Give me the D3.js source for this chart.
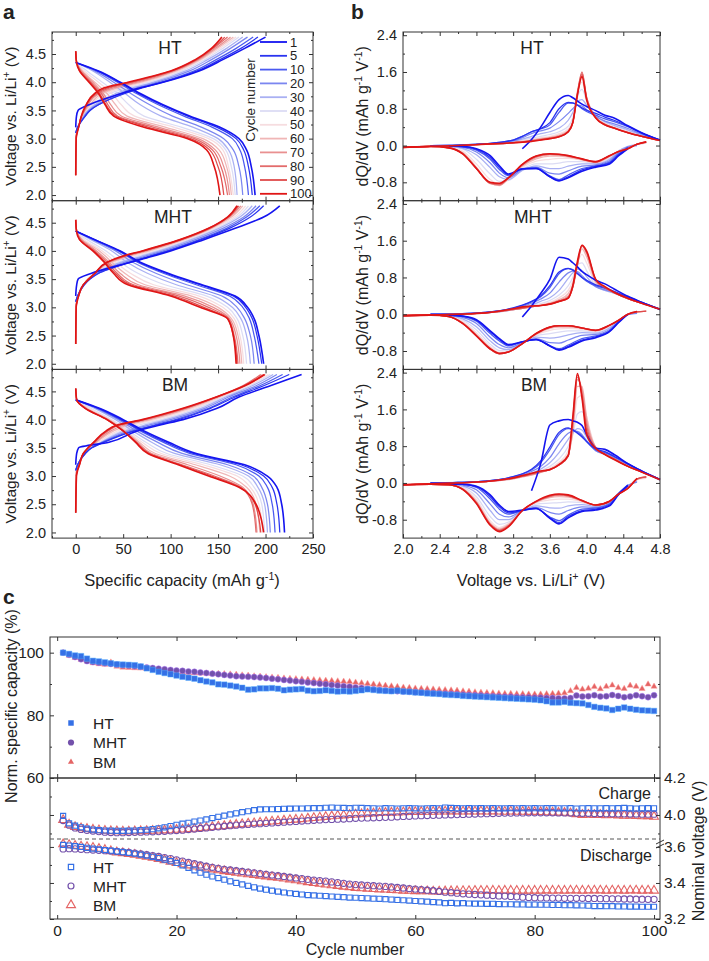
<!DOCTYPE html>
<html><head><meta charset="utf-8">
<script src="https://cdn.jsdelivr.net/npm/d3@7"></script>
<style>body{margin:0;background:#fff} text{font-family:Arial,"Liberation Sans",sans-serif;fill:#222}</style>
</head><body><svg id="c" width="709" height="961"></svg>
<script>
const n = null;
// ---------- shared ----------
const cycles = [1,5,10,20,30,40,50,60,70,80,90,100];
const cycleColors = ["#1414f0","#2a34f0","#4b5af0","#7b86f0","#a9b0f3","#dcdcf4","#f6dde0","#f0b6b6","#e99090","#e36b6b","#df4a4a","#e01515"];
const drawOrder = [5,6,4,7,3,8,2,9,1,10,0,11];

// ---------- panel a : voltage profiles ----------
const capVdis = [4.55,4.35,4.2,4.0,3.8,3.6,3.4,3.2,3.0,2.8,2.5,2.0];
const capVchg = [2.35,3.0,3.1,3.2,3.4,3.5,3.6,3.8,3.9,4.0,4.2,4.4,4.6,4.8];
const HT_dis = [
 [n,0,24,47,68,92,120,152,172,180,185,189],
 [n,0,23,46,66,90,118,149,169,177,182,186],
 [n,0,22,44,64,87,114,144,165,173,178,182],
 [n,0,20,40,58,78,102,133,156,166,172,176],
 [n,0,18,36,52,68,90,124,150,161,167,170],
 [0,1,12,28,44,56,72,112,145,158,164,168],
 [0,1,9,24,38,48,62,104,140,155,161,166],
 [0,1,7,20,33,42,54,95,134,151,159,164],
 [0,1,6,18,29,37,48,88,129,147,156,162],
 [0,1,5,16,27,34,44,82,125,144,153,160],
 [0,1,4,15,25,32,42,77,121,141,150,156],
 [0,0.8,4,14,24,31,40,72,118,138,146,152]];
const HT_chg = [
 [n,n,n,0,0.8,2.5,14,48,68,92,130,155,178,200],
 [n,n,0,2,10,15,24,52,70,92,128,152,174,192],
 [n,n,0,2,10,15,24,50,68,90,125,148,169,187],
 [n,n,0,2,9,14,22,46,64,86,120,143,163,181],
 [n,n,0,2,8,13,20,42,60,82,116,139,159,176],
 [n,0,0.8,2.5,8,12,18,36,54,77,112,136,155,172],
 [n,0,0.8,2.5,7,11,16,32,49,73,109,133,152,169],
 [n,0,0.8,2.5,7,10,15,28,44,69,106,131,149,166],
 [0,0.5,1,3,6.5,9.5,13,25,40,65,104,129,147,163],
 [0,0.5,1,3,6,9,12,23,36,61,102,128,145,160],
 [0,0.5,1.2,3,6,8.5,11,21,33,58,101,127,144,157],
 [0,0.5,1.5,3,6,8,11,20,30,55,100,126,143,154]];
const MHT_dis = [
 [n,0,20,47,68,98,133,168,181,188,193,198],
 [n,0,20,46,67,96,131,166,179,186,191,196],
 [n,0,19,45,65,93,127,162,176,183,188,193],
 [n,0,18,42,60,85,117,154,170,178,184,188],
 [n,0,16,38,54,76,106,146,165,174,180,184],
 [0,1,12,32,47,66,94,138,160,170,176,180],
 [0,1,9,28,42,58,82,130,155,167,173,177],
 [0,1,7,25,38,52,73,122,150,164,171,175],
 [0,1,6,22,35,47,66,115,145,162,169,173],
 [0,1,5,20,33,44,61,109,140,161,167,171],
 [0,1,4,19,31,42,58,104,135,160,166,170],
 [0,0.8,4,18,30,40,55,100,131,160,166,169]];
const MHT_chg = [
 [n,n,n,0,1,2.5,16,58,80,100,135,168,198,215],
 [n,n,0,2,9,15,24,58,78,98,132,162,184,198],
 [n,n,0,2,9,15,23,56,76,96,130,159,180,194],
 [n,n,0,2,8,14,22,52,72,92,126,155,177,190],
 [n,n,0,2,8,14,21,48,68,88,122,151,173,186],
 [n,0,0.8,2.5,8,13,20,44,63,84,119,148,170,182],
 [n,0,0.8,2.5,8,13,20,40,59,80,116,145,167,179],
 [n,0,0.8,2.5,8,13,20,37,55,77,114,143,164,176],
 [0,0.5,1,3,8,13,20,35,52,74,112,142,162,174],
 [0,0.5,1,3,8,13,20,34,50,72,111,141,161,172],
 [0,0.5,1.2,3,8,13,20,33,49,71,110,140,160,171],
 [0,0.5,1.5,3,8,14,20,33,48,70,110,140,160,170]];
const BM_dis = [
 [n,0,25,50,72,98,127,178,202,212,217,220],
 [n,0,24,48,70,95,124,174,198,207,212,215],
 [n,0,23,47,68,92,120,169,193,202,207,210],
 [n,0,22,45,64,86,112,160,187,196,202,205],
 [n,0,20,42,60,80,104,152,182,192,199,202],
 [0,1,16,38,56,74,96,142,176,188,196,199],
 [0,1,14,36,54,70,90,134,170,184,193,197],
 [0,1,12,35,52,67,84,126,162,180,190,194],
 [0,1,11,34,51,65,80,118,152,176,187,191],
 [0,1,10,33,50,64,78,112,146,174,186,190],
 [0,1,10,33,50,63,77,110,143,173,189,195],
 [0,1,10,33,50,63,76,108,140,172,190,198]];
const BM_chg = [
 [n,n,n,0,1,3,35,65,88,113,149,172,205,238],
 [n,n,0,2,10,17,30,62,84,108,142,168,198,225],
 [n,n,0,2,10,17,29,60,82,105,140,165,194,218],
 [n,n,0,2,10,16,28,56,77,100,136,161,190,212],
 [n,n,0,2,10,16,27,52,72,95,132,158,186,208],
 [n,0,0.8,2.5,10,16,26,48,66,90,128,155,183,205],
 [n,0,0.8,2.5,10,15,24,44,60,84,124,153,181,203],
 [n,0,0.8,2.5,9,14,22,40,54,79,120,151,179,200],
 [0,0.6,1.2,3.5,9,14,21,37,50,75,117,149,177,197],
 [0,0.6,1.5,3.5,8,13,20,34,46,72,115,148,176,195],
 [0,0.7,1.8,4,8,13,19,33,44,71,114,148,178,199],
 [0,0.8,2,4,8,13,19,32,43,70,113,148,178,199]];

// ---------- panel b : dQ/dV ----------
const dqVchg = [2.0,2.3,2.6,2.9,3.2,3.3,3.4,3.5,3.6,3.7,3.8,3.85,3.9,3.95,4.0,4.1,4.2,4.3,4.45,4.6,4.8];
const dqVdis = [4.65,4.55,4.45,4.35,4.25,4.1,3.95,3.8,3.7,3.6,3.45,3.3,3.15,3.05,2.95,2.8,2.65,2.5,2.3,2.0];
const HT_dqc = [
 [n,n,n,n,n,-0.07,0.13,0.4,0.72,1.0,1.09,1.04,0.97,0.9,0.85,0.76,0.66,0.6,0.43,0.28,0.12],
 [n,0,0.01,0.04,0.12,0.2,0.3,0.37,0.5,0.8,0.94,0.93,0.88,0.82,0.77,0.7,0.62,0.55,0.42,0.27,0.12],
 [n,0,0.01,0.04,0.12,0.2,0.3,0.36,0.45,0.72,0.92,0.92,0.88,0.8,0.74,0.66,0.58,0.52,0.41,0.27,0.12],
 [n,0,0.01,0.04,0.1,0.17,0.26,0.32,0.38,0.52,0.7,0.8,0.88,0.86,0.78,0.63,0.53,0.47,0.37,0.25,0.12],
 [n,0,0.01,0.03,0.09,0.14,0.2,0.26,0.3,0.38,0.55,0.72,0.95,1.0,0.88,0.65,0.52,0.44,0.34,0.23,0.12],
 [-0.04,-0.01,0,0.03,0.08,0.12,0.16,0.2,0.24,0.3,0.42,0.6,1.05,1.22,0.98,0.64,0.5,0.42,0.32,0.22,0.12],
 [-0.04,-0.02,0,0.03,0.07,0.1,0.13,0.17,0.2,0.26,0.36,0.55,1.15,1.38,1.02,0.63,0.48,0.4,0.3,0.21,0.11],
 [-0.04,-0.02,0,0.03,0.07,0.09,0.12,0.15,0.18,0.23,0.33,0.52,1.18,1.5,1.05,0.62,0.47,0.39,0.29,0.2,0.11],
 [-0.04,-0.02,0,0.03,0.06,0.08,0.11,0.14,0.17,0.21,0.31,0.5,1.15,1.58,1.06,0.61,0.46,0.38,0.28,0.2,0.11],
 [-0.04,-0.02,0,0.03,0.06,0.08,0.1,0.13,0.16,0.2,0.3,0.5,1.12,1.6,1.05,0.61,0.46,0.38,0.28,0.2,0.11],
 [-0.04,-0.02,0,0.03,0.06,0.08,0.1,0.12,0.15,0.19,0.3,0.5,1.1,1.55,1.02,0.6,0.45,0.38,0.28,0.2,0.11],
 [-0.04,-0.02,0,0.03,0.06,0.07,0.09,0.12,0.15,0.19,0.3,0.5,1.1,1.5,1.0,0.6,0.45,0.38,0.28,0.2,0.11]];
const HT_dqd = [
 [n,n,-0.07,-0.22,-0.4,-0.47,-0.56,-0.7,-0.77,-0.68,-0.5,-0.51,-0.62,-0.44,-0.22,-0.07,-0.02,-0.01,n,n],
 [n,n,-0.05,-0.2,-0.38,-0.45,-0.53,-0.68,-0.76,-0.68,-0.5,-0.5,-0.64,-0.48,-0.26,-0.08,-0.02,-0.01,0,n],
 [n,n,-0.04,-0.18,-0.36,-0.44,-0.5,-0.64,-0.74,-0.66,-0.48,-0.5,-0.66,-0.52,-0.3,-0.1,-0.03,-0.01,0,n],
 [n,0,-0.03,-0.15,-0.33,-0.42,-0.45,-0.55,-0.62,-0.6,-0.47,-0.52,-0.7,-0.6,-0.38,-0.14,-0.04,-0.02,-0.01,n],
 [n,0.02,-0.02,-0.12,-0.3,-0.4,-0.4,-0.45,-0.5,-0.5,-0.44,-0.54,-0.74,-0.68,-0.48,-0.2,-0.06,-0.02,-0.01,n],
 [0.05,0.02,-0.03,-0.11,-0.27,-0.39,-0.35,-0.35,-0.38,-0.4,-0.4,-0.52,-0.76,-0.78,-0.62,-0.3,-0.08,-0.03,-0.02,-0.04],
 [0.06,0.02,-0.04,-0.12,-0.25,-0.38,-0.32,-0.28,-0.28,-0.3,-0.34,-0.48,-0.74,-0.84,-0.74,-0.4,-0.12,-0.04,-0.02,-0.04],
 [0.07,0.03,-0.05,-0.12,-0.24,-0.37,-0.31,-0.25,-0.23,-0.23,-0.29,-0.45,-0.72,-0.87,-0.82,-0.47,-0.15,-0.05,-0.02,-0.04],
 [0.07,0.03,-0.06,-0.13,-0.23,-0.36,-0.3,-0.23,-0.21,-0.2,-0.26,-0.43,-0.71,-0.86,-0.83,-0.5,-0.17,-0.05,-0.02,-0.04],
 [0.08,0.03,-0.06,-0.13,-0.22,-0.36,-0.3,-0.23,-0.2,-0.19,-0.24,-0.42,-0.7,-0.85,-0.82,-0.5,-0.17,-0.05,-0.02,-0.04],
 [0.08,0.03,-0.07,-0.13,-0.22,-0.35,-0.29,-0.22,-0.19,-0.18,-0.23,-0.41,-0.7,-0.83,-0.81,-0.5,-0.18,-0.05,-0.02,-0.04],
 [0.08,0.03,-0.07,-0.13,-0.22,-0.35,-0.29,-0.22,-0.19,-0.18,-0.23,-0.41,-0.7,-0.82,-0.8,-0.5,-0.18,-0.05,-0.02,-0.04]];
const MHT_dqc = [
 [n,n,n,n,n,-0.06,0.18,0.45,0.76,1.24,1.2,1.12,1.03,0.93,0.86,0.74,0.66,0.55,0.39,0.26,0.1],
 [n,0,0.01,0.04,0.14,0.2,0.28,0.4,0.62,0.92,1.0,0.96,0.88,0.8,0.74,0.64,0.58,0.5,0.38,0.26,0.11],
 [n,0,0.01,0.04,0.13,0.19,0.27,0.38,0.58,0.88,0.99,0.97,0.9,0.8,0.72,0.62,0.56,0.49,0.37,0.26,0.11],
 [n,0,0.01,0.04,0.12,0.17,0.24,0.33,0.46,0.7,0.9,0.94,0.93,0.84,0.74,0.6,0.53,0.47,0.36,0.25,0.11],
 [n,0,0.01,0.03,0.1,0.15,0.2,0.28,0.36,0.52,0.78,0.9,0.98,0.95,0.82,0.6,0.52,0.46,0.35,0.25,0.11],
 [-0.03,-0.01,0,0.03,0.1,0.13,0.18,0.23,0.3,0.42,0.62,0.8,1.08,1.12,0.95,0.62,0.52,0.46,0.34,0.24,0.11],
 [-0.03,-0.02,0,0.03,0.1,0.13,0.17,0.21,0.26,0.36,0.52,0.72,1.1,1.3,1.12,0.66,0.54,0.46,0.34,0.24,0.11],
 [-0.03,-0.02,0,0.03,0.1,0.13,0.16,0.2,0.24,0.32,0.45,0.65,1.1,1.42,1.25,0.7,0.56,0.47,0.34,0.24,0.11],
 [-0.03,-0.02,0,0.03,0.1,0.13,0.16,0.19,0.23,0.3,0.4,0.6,1.08,1.48,1.32,0.72,0.57,0.47,0.34,0.24,0.11],
 [-0.03,-0.02,0,0.03,0.1,0.13,0.16,0.19,0.22,0.28,0.37,0.58,1.05,1.5,1.35,0.74,0.58,0.47,0.34,0.24,0.11],
 [-0.03,-0.02,0,0.03,0.11,0.14,0.17,0.19,0.22,0.28,0.35,0.6,1.1,1.5,1.36,0.75,0.58,0.47,0.34,0.24,0.11],
 [-0.03,-0.02,0,0.03,0.12,0.16,0.18,0.19,0.22,0.28,0.35,0.62,1.15,1.5,1.38,0.76,0.6,0.48,0.35,0.24,0.11]];
const MHT_dqd = [
 [n,n,0,-0.18,-0.38,-0.51,-0.58,-0.72,-0.78,-0.69,-0.55,-0.6,-0.66,-0.53,-0.36,-0.12,-0.04,-0.02,n,n],
 [n,n,0,-0.17,-0.37,-0.49,-0.56,-0.7,-0.77,-0.69,-0.55,-0.6,-0.67,-0.55,-0.38,-0.13,-0.04,-0.02,-0.01,n],
 [n,n,0,-0.16,-0.36,-0.47,-0.53,-0.67,-0.75,-0.68,-0.55,-0.6,-0.69,-0.58,-0.42,-0.15,-0.05,-0.02,-0.01,n],
 [n,0.02,-0.01,-0.15,-0.33,-0.44,-0.46,-0.56,-0.63,-0.62,-0.53,-0.62,-0.73,-0.66,-0.5,-0.2,-0.07,-0.02,-0.01,n],
 [n,0.03,-0.01,-0.14,-0.3,-0.41,-0.4,-0.45,-0.5,-0.52,-0.5,-0.63,-0.77,-0.73,-0.58,-0.27,-0.1,-0.03,-0.01,n],
 [n,0.04,-0.01,-0.14,-0.28,-0.39,-0.36,-0.36,-0.39,-0.42,-0.47,-0.64,-0.8,-0.79,-0.65,-0.34,-0.13,-0.04,-0.02,-0.03],
 [n,0.05,-0.01,-0.13,-0.26,-0.37,-0.33,-0.31,-0.32,-0.35,-0.45,-0.64,-0.81,-0.83,-0.7,-0.4,-0.16,-0.04,-0.02,-0.03],
 [n,0.05,0,-0.13,-0.25,-0.36,-0.31,-0.28,-0.28,-0.31,-0.44,-0.64,-0.82,-0.85,-0.73,-0.44,-0.18,-0.05,-0.02,-0.03],
 [n,0.06,0,-0.13,-0.24,-0.35,-0.3,-0.26,-0.26,-0.29,-0.43,-0.64,-0.82,-0.86,-0.75,-0.46,-0.19,-0.05,-0.02,-0.03],
 [0.07,0.05,0,-0.13,-0.24,-0.35,-0.3,-0.25,-0.25,-0.28,-0.42,-0.64,-0.82,-0.86,-0.76,-0.47,-0.2,-0.05,-0.02,-0.03],
 [0.07,0.05,0,-0.13,-0.24,-0.35,-0.3,-0.25,-0.25,-0.28,-0.42,-0.64,-0.82,-0.86,-0.76,-0.47,-0.2,-0.05,-0.02,-0.03],
 [n,0.06,0,-0.13,-0.24,-0.35,-0.3,-0.25,-0.25,-0.28,-0.42,-0.64,-0.82,-0.85,-0.75,-0.47,-0.2,-0.05,-0.02,-0.03]];
const BM_dqc = [
 [n,n,n,n,n,n,-0.17,0.42,1.26,1.35,1.38,1.35,1.32,1.25,1.05,0.76,0.73,0.62,0.42,0.26,0.07],
 [n,0,0.01,0.04,0.14,0.2,0.3,0.48,0.78,1.1,1.2,1.15,1.08,1.0,0.9,0.74,0.68,0.58,0.42,0.26,0.08],
 [n,0,0.01,0.04,0.13,0.19,0.28,0.44,0.72,1.05,1.18,1.16,1.1,1.02,0.9,0.72,0.66,0.57,0.41,0.26,0.08],
 [n,0,0.01,0.04,0.12,0.17,0.25,0.36,0.55,0.85,1.08,1.12,1.12,1.05,0.92,0.7,0.63,0.55,0.4,0.25,0.08],
 [n,0,0.01,0.03,0.1,0.15,0.21,0.3,0.44,0.66,0.95,1.08,1.18,1.15,1.0,0.7,0.62,0.54,0.39,0.25,0.08],
 [-0.04,-0.01,0,0.03,0.09,0.13,0.18,0.26,0.36,0.52,0.8,1.05,1.5,1.55,1.3,0.75,0.63,0.54,0.39,0.25,0.08],
 [-0.04,-0.02,0,0.03,0.09,0.13,0.17,0.24,0.32,0.45,0.7,1.05,1.85,1.9,1.45,0.78,0.64,0.54,0.38,0.25,0.08],
 [-0.04,-0.02,0,0.03,0.09,0.13,0.17,0.23,0.3,0.42,0.63,1.1,2.1,2.1,1.45,0.78,0.64,0.54,0.38,0.25,0.08],
 [-0.04,-0.02,0,0.03,0.1,0.14,0.18,0.23,0.29,0.4,0.6,1.2,2.25,2.05,1.35,0.77,0.63,0.53,0.37,0.24,0.08],
 [-0.04,-0.02,0,0.03,0.1,0.14,0.19,0.24,0.29,0.39,0.58,1.3,2.3,1.95,1.25,0.76,0.62,0.52,0.36,0.24,0.08],
 [-0.04,-0.02,0,0.03,0.11,0.15,0.2,0.25,0.29,0.39,0.58,1.4,2.35,1.9,1.15,0.75,0.62,0.52,0.36,0.24,0.08],
 [-0.04,-0.02,0,0.03,0.11,0.16,0.21,0.26,0.29,0.4,0.6,1.43,2.38,1.85,1.06,0.75,0.62,0.51,0.36,0.24,0.07]];
const BM_dqd = [
 [n,n,-0.06,-0.25,-0.5,-0.59,-0.62,-0.76,-0.89,-0.77,-0.55,-0.59,-0.62,-0.48,-0.26,-0.07,-0.03,-0.02,n,n],
 [n,n,-0.05,-0.24,-0.48,-0.57,-0.6,-0.73,-0.86,-0.76,-0.56,-0.6,-0.65,-0.52,-0.3,-0.08,-0.03,-0.02,-0.01,n],
 [n,n,-0.04,-0.23,-0.46,-0.55,-0.57,-0.7,-0.82,-0.74,-0.56,-0.6,-0.68,-0.57,-0.35,-0.1,-0.03,-0.02,-0.01,n],
 [n,0.02,-0.05,-0.22,-0.44,-0.53,-0.52,-0.6,-0.68,-0.64,-0.53,-0.6,-0.74,-0.68,-0.46,-0.15,-0.05,-0.02,-0.01,n],
 [n,0.04,-0.06,-0.22,-0.42,-0.51,-0.47,-0.5,-0.55,-0.54,-0.5,-0.6,-0.8,-0.8,-0.6,-0.22,-0.07,-0.03,-0.01,n],
 [n,0.06,-0.08,-0.22,-0.41,-0.5,-0.43,-0.41,-0.43,-0.44,-0.46,-0.6,-0.85,-0.9,-0.73,-0.3,-0.09,-0.03,-0.02,-0.04],
 [0.1,0.07,-0.09,-0.23,-0.41,-0.49,-0.41,-0.35,-0.35,-0.37,-0.43,-0.6,-0.88,-0.97,-0.82,-0.36,-0.11,-0.04,-0.02,-0.04],
 [0.12,0.08,-0.1,-0.23,-0.4,-0.49,-0.4,-0.31,-0.3,-0.32,-0.42,-0.6,-0.9,-1.0,-0.87,-0.4,-0.12,-0.04,-0.03,-0.04],
 [0.13,0.08,-0.11,-0.24,-0.4,-0.48,-0.39,-0.29,-0.27,-0.3,-0.41,-0.6,-0.92,-1.02,-0.89,-0.42,-0.13,-0.04,-0.03,-0.04],
 [0.13,0.09,-0.11,-0.24,-0.4,-0.48,-0.39,-0.28,-0.26,-0.29,-0.41,-0.6,-0.93,-1.03,-0.9,-0.43,-0.13,-0.04,-0.03,-0.04],
 [0.13,0.09,-0.12,-0.24,-0.4,-0.48,-0.38,-0.27,-0.25,-0.28,-0.4,-0.6,-0.94,-1.04,-0.91,-0.44,-0.14,-0.04,-0.03,-0.04],
 [n,0.1,-0.12,-0.24,-0.4,-0.48,-0.38,-0.26,-0.24,-0.27,-0.4,-0.6,-0.95,-1.06,-0.92,-0.45,-0.14,-0.04,-0.03,-0.04]];

// ---------- panel c : cycling ----------
const cycleNo = d3.range(1, 101);
const capHT = [100,99.6,99.1,98.9,98.1,97.4,97.2,96.9,96.6,96.3, 96.2,96.1,96.0,95.6,95.0,94.5,93.9,93.5,93.1,92.7,
 92.3,92.0,91.7,91.2,90.8,90.5,89.9,89.8,89.5,89.2, 88.8,88.2,88.3,88.6,88.6,88.7,88.5,88.0,88.2,88.3,
 88.4,87.9,87.7,87.8,88.0,87.8,87.6,87.7,87.6,87.8, 88.0,88.3,88.1,87.9,87.8,87.7,87.9,87.6,87.5,87.3,
 87.2,87.0,86.9,86.8,86.6,86.5,86.4,86.2,86.1,86.0, 85.9,85.8,85.7,85.6,85.5,85.4,85.3,85.2,85.1,85.0,
 84.8,84.5,84.1,84.1,84.3,84.0,83.9,83.8,83.3,82.7, 82.4,82.2,81.7,82.1,82.5,82.1,81.8,81.6,81.5,81.4];
const capMHT = [100,99.3,98.6,97.9,97.3,97.0,96.8,96.6,96.4,96.2, 96.0,95.9,95.7,95.5,95.3,95.1,94.9,94.7,94.5,94.3,
 94.2,94.0,93.9,93.7,93.5,93.3,93.1,92.9,92.7,92.5, 92.4,92.3,92.2,92.1,91.9,91.7,91.5,91.3,91.1,90.9,
 90.7,90.5,90.3,90.1,89.9,89.7,89.5,89.3,89.1,88.9, 88.7,88.5,88.3,88.1,87.9,87.8,87.7,87.6,87.5,87.4,
 87.3,87.2,87.1,87.0,86.9,86.8,86.7,86.6,86.5,86.4, 86.3,86.2,86.1,86.0,85.9,85.9,85.8,85.7,85.7,85.6,
 85.6,85.5,85.5,85.4,85.4,85.5,86.3,86.0,86.1,86.4, 86.0,86.1,86.5,86.2,85.8,86.0,86.4,86.1,85.8,86.4];
const capBM = [100,99.1,98.4,97.8,97.3,96.7,96.4,96.2,96.9,95.6, 95.3,95.2,95.1,95.0,94.9,94.8,94.6,94.3,94.0,93.8,
 93.7,93.6,93.5,93.4,93.4,93.3,93.3,93.2,93.1,93.0, 92.8,92.7,92.5,92.4,92.2,92.1,92.0,91.8,91.7,91.6,
 91.5,91.4,91.3,91.2,91.1,91.0,90.9,90.8,90.7,90.5, 90.3,90.1,89.9,89.7,89.5,89.3,89.1,88.9,88.8,88.6,
 88.5,88.4,88.3,88.2,88.1,88.0,87.9,87.7,87.6,87.4, 87.3,87.2,87.1,87.0,86.9,86.9,86.8,86.8,86.7,86.7,
 86.7,86.8,86.9,87.0,87.1,87.8,88.8,88.3,88.6,89.1, 88.4,89.2,89.6,88.8,88.5,89.5,89.2,88.5,89.9,89.2];
const chgHT = [3.995,3.955,3.942,3.933,3.926,3.921,3.918,3.916,3.915,3.914, 3.914,3.915,3.916,3.918,3.920,3.923,3.928,3.933,3.940,3.947,
 3.953,3.958,3.964,3.970,3.976,3.983,3.990,3.996,4.003,4.009, 4.015,4.020,4.026,4.030,4.031,4.031,4.032,4.033,4.034,4.035,
 4.035,4.036,4.037,4.037,4.039,4.040,4.039,4.038,4.037,4.039, 4.038,4.037,4.036,4.035,4.037,4.036,4.035,4.036,4.037,4.036,
 4.035,4.036,4.037,4.036,4.040,4.038,4.037,4.036,4.037,4.036, 4.037,4.036,4.037,4.036,4.036,4.037,4.036,4.037,4.036,4.037,
 4.036,4.037,4.037,4.036,4.036,4.037,4.035,4.036,4.037,4.036, 4.036,4.037,4.036,4.037,4.038,4.036,4.035,4.036,4.037,4.036];
const chgMHT = [3.970,3.945,3.930,3.922,3.917,3.913,3.910,3.907,3.905,3.904, 3.904,3.905,3.906,3.907,3.908,3.909,3.910,3.912,3.914,3.916,
 3.918,3.921,3.924,3.927,3.930,3.933,3.936,3.939,3.942,3.945, 3.947,3.949,3.951,3.953,3.955,3.957,3.959,3.961,3.963,3.965,
 3.967,3.969,3.971,3.973,3.975,3.976,3.977,3.978,3.980,3.982, 3.983,3.984,3.985,3.986,3.987,3.988,3.990,3.992,3.993,3.995,
 3.996,3.997,3.998,3.999,4.000,4.001,4.002,4.003,4.004,4.005, 4.006,4.007,4.008,4.009,4.010,4.010,4.011,4.011,4.012,4.012,
 4.012,4.012,4.012,4.011,4.011,4.010,4.010,4.009,4.009,4.008, 4.008,4.007,4.007,4.006,4.006,4.005,4.005,4.004,4.004,4.004];
const chgBM = [3.973,3.948,3.935,3.929,3.925,3.921,3.918,3.915,3.913,3.912, 3.911,3.911,3.912,3.913,3.914,3.915,3.916,3.917,3.918,3.920,
 3.922,3.924,3.926,3.929,3.932,3.935,3.938,3.941,3.944,3.948, 3.951,3.954,3.956,3.959,3.962,3.965,3.967,3.970,3.973,3.975,
 3.978,3.981,3.984,3.987,3.990,3.993,3.996,3.998,4.001,4.003, 4.005,4.007,4.009,4.011,4.012,4.013,4.014,4.015,4.016,4.017,
 4.017,4.018,4.018,4.019,4.019,4.020,4.020,4.019,4.020,4.019, 4.020,4.019,4.020,4.019,4.018,4.019,4.018,4.018,4.017,4.017,
 4.016,4.015,4.014,4.013,4.012,4.010,4.005,4.001,4.002,4.000, 4.001,3.999,4.000,3.998,3.996,3.997,3.995,3.993,3.994,3.991];
const disHT = [3.611,3.608,3.604,3.600,3.595,3.591,3.587,3.583,3.579,3.575, 3.571,3.567,3.562,3.557,3.551,3.545,3.538,3.530,3.521,3.511,
 3.498,3.484,3.470,3.457,3.446,3.436,3.427,3.418,3.409,3.400, 3.392,3.384,3.376,3.369,3.363,3.357,3.352,3.347,3.343,3.339,
 3.336,3.333,3.331,3.329,3.327,3.325,3.323,3.321,3.319,3.318, 3.316,3.315,3.313,3.312,3.310,3.308,3.306,3.304,3.302,3.300,
 3.298,3.296,3.294,3.292,3.288,3.289,3.287,3.288,3.286,3.285, 3.285,3.284,3.284,3.283,3.282,3.282,3.281,3.281,3.280,3.280,
 3.279,3.279,3.278,3.278,3.277,3.277,3.276,3.275,3.274,3.272, 3.272,3.271,3.271,3.270,3.270,3.269,3.269,3.268,3.268,3.268];
const disMHT = [3.589,3.590,3.589,3.587,3.585,3.583,3.581,3.579,3.577,3.575, 3.572,3.569,3.566,3.562,3.557,3.552,3.547,3.541,3.535,3.528,
 3.521,3.514,3.507,3.500,3.493,3.487,3.481,3.476,3.472,3.468, 3.464,3.460,3.456,3.452,3.448,3.444,3.440,3.436,3.432,3.428,
 3.424,3.420,3.416,3.413,3.410,3.406,3.402,3.398,3.394,3.391, 3.389,3.387,3.385,3.383,3.381,3.378,3.375,3.372,3.369,3.366,
 3.363,3.360,3.357,3.353,3.349,3.346,3.343,3.340,3.338,3.336, 3.334,3.332,3.330,3.328,3.327,3.325,3.323,3.321,3.320,3.318,
 3.317,3.317,3.316,3.316,3.315,3.315,3.315,3.315,3.314,3.314, 3.313,3.313,3.312,3.312,3.311,3.311,3.310,3.310,3.309,3.309];
const disBM = [3.615,3.611,3.607,3.603,3.600,3.596,3.590,3.584,3.577,3.570, 3.566,3.562,3.557,3.552,3.546,3.540,3.534,3.527,3.519,3.511,
 3.504,3.498,3.492,3.486,3.481,3.476,3.471,3.466,3.461,3.457, 3.453,3.449,3.445,3.441,3.437,3.433,3.429,3.425,3.420,3.415,
 3.410,3.405,3.400,3.396,3.392,3.388,3.384,3.380,3.377,3.373, 3.371,3.369,3.367,3.365,3.364,3.362,3.360,3.358,3.357,3.355,
 3.354,3.354,3.353,3.353,3.354,3.355,3.355,3.356,3.356,3.357, 3.357,3.357,3.358,3.357,3.358,3.358,3.357,3.358,3.358,3.358,
 3.358,3.359,3.358,3.359,3.358,3.359,3.359,3.358,3.359,3.359, 3.359,3.358,3.359,3.359,3.358,3.359,3.359,3.358,3.359,3.358];

// tick values / labels
const aXTicks = [0,50,100,150,200,250], aXMinor = [-25,25,75,125,175,225];
const aYTicks = [2.0,2.5,3.0,3.5,4.0,4.5], aYMinor = [2.25,2.75,3.25,3.75,4.25,4.75];
const bXTicks = [2.0,2.4,2.8,3.2,3.6,4.0,4.4,4.8], bXMinor = [2.2,2.6,3.0,3.4,3.8,4.2,4.6];
const bYTicks = [-0.8,0,0.8,1.6,2.4], bYLabels = ["-0.8","0.0","0.8","1.6","2.4"], bYMinor = [-0.4,0.4,1.2,2.0];
const cXTicks = [0,20,40,60,80,100], cXMinor = [10,30,50,70,90];
const cYTicks = [60,80,100], cYMinor = [70,90];
const cChgTicks = [4.0,4.2], cChgMinor = [3.9,4.1];
const cDisTicks = [3.2,3.4,3.6], cDisMinor = [3.3,3.5];
const sampleNames = ["HT","MHT","BM"];

// ---------- drawing ----------
const svg = d3.select("#c");
const FONT = 'Arial,"Liberation Sans",sans-serif';

function rich(g, x, y, parts, o = {}) {
  const fs = o.fs || 16;
  const t = g.append("text").attr("x", x).attr("y", y).attr("font-size", fs)
    .attr("text-anchor", o.anchor || "middle");
  if (o.rot) t.attr("transform", `rotate(${o.rot},${x},${y})`);
  let up = false;
  parts.forEach(p => {
    const sup = Array.isArray(p);
    const s = t.append("tspan").text(sup ? p[0] : p);
    if (sup && !up) { s.attr("dy", -6).attr("font-size", fs * 0.65); up = true; }
    else if (sup) { s.attr("font-size", fs * 0.65); }
    else if (up) { s.attr("dy", 6); up = false; }
  });
  return t;
}

function mkAxis(g, axis, tx, ty, showLabels, fs) {
  const a = g.append("g").attr("transform", `translate(${tx},${ty})`).call(axis);
  a.select(".domain").remove();
  a.selectAll(".tick line").attr("stroke", "#333").attr("stroke-width", 1);
  a.selectAll(".tick text").attr("font-size", fs).attr("fill", "#222").attr("font-family", FONT);
  if (!showLabels) a.selectAll(".tick text").remove();
  return a;
}

function xTicks(g, x, yB, yT, maj, min, labels, fmt, fs) {
  mkAxis(g, d3.axisBottom(x).tickValues(maj).tickSize(-4).tickPadding(6).tickFormat(fmt), 0, yB, labels, fs);
  mkAxis(g, d3.axisBottom(x).tickValues(min).tickSize(-2), 0, yB, false, fs);
  mkAxis(g, d3.axisTop(x).tickValues(maj).tickSize(-4), 0, yT, false, fs);
  mkAxis(g, d3.axisTop(x).tickValues(min).tickSize(-2), 0, yT, false, fs);
}
function yTicks(g, y, xL, xR, maj, min, labL, fmt, fs, labR) {
  mkAxis(g, d3.axisLeft(y).tickValues(maj).tickSize(-4).tickPadding(6).tickFormat(fmt), xL, 0, labL, fs);
  mkAxis(g, d3.axisLeft(y).tickValues(min).tickSize(-2), xL, 0, false, fs);
  mkAxis(g, d3.axisRight(y).tickValues(maj).tickSize(-4).tickPadding(4).tickFormat(fmt), xR, 0, !!labR, fs);
  mkAxis(g, d3.axisRight(y).tickValues(min).tickSize(-2), xR, 0, false, fs);
}
function frame(g, L, T, R, B) {
  g.append("rect").attr("x", L).attr("y", T).attr("width", R - L).attr("height", B - T)
    .attr("fill", "none").attr("stroke", "#333").attr("stroke-width", 1);
}

// panel labels
[["a", 3, 19], ["b", 351, 19], ["c", 3, 604]].forEach(d =>
  svg.append("text").attr("x", d[1]).attr("y", d[2]).attr("font-size", 21).attr("font-weight", "bold").text(d[0]));

// ===== panel a =====
const aL = 52, aR = 313, aT = 32, aH = 168.7;
const aX = d3.scaleLinear().domain([-25, 250]).range([aL, aR]);
const aData = [[HT_dis, HT_chg], [MHT_dis, MHT_chg], [BM_dis, BM_chg]];
const aNameX = [170, 173, 175];
aData.forEach((dd, i) => {
  const top = aT + i * aH, bot = top + aH;
  const y = d3.scaleLinear().domain([1.90, 4.89]).range([bot, top]);
  const g = svg.append("g");
  const line = d3.line().x(d => aX(d[0])).y(d => y(d[1])).curve(d3.curveMonotoneY);
  drawOrder.forEach(ci => {
    const w = (ci === 0 || ci === 11) ? 1.6 : 1.25;
    const dis = capVdis.map((v, k) => [dd[0][ci][k], v]).filter(p => p[0] != null).sort((a, b) => b[1] - a[1]);
    const chg = capVchg.map((v, k) => [dd[1][ci][k], v]).filter(p => p[0] != null).sort((a, b) => b[1] - a[1]);
    [dis, chg].forEach(pts => g.append("path").attr("d", line(pts)).attr("fill", "none")
      .attr("stroke", cycleColors[ci]).attr("stroke-width", w));
  });
  xTicks(g, aX, bot, top, aXTicks, aXMinor, i === 2, d3.format("d"), 14.5);
  yTicks(g, y, aL, aR, aYTicks, aYMinor, true, d3.format(".1f"), 14.5);
  frame(g, aL, top, aR, bot);
  g.append("text").attr("x", aNameX[i]).attr("y", top + 22).attr("text-anchor", "middle").attr("font-size", 17.5).text(sampleNames[i]);
  rich(g, 16, (top + bot) / 2, ["Voltage vs. Li/Li", ["+"], " (V)"], { rot: -90, fs: 15.5 });
});
rich(svg, 182, 586, ["Specific capacity (mAh g", ["-1"], ")"], { fs: 16.5 });
// legend
const legG = svg.append("g");
cycles.forEach((c, i) => {
  const yy = 42 + i * 13.8;
  legG.append("line").attr("x1", 260).attr("x2", 287).attr("y1", yy).attr("y2", yy)
    .attr("stroke", cycleColors[i]).attr("stroke-width", 1.8);
  legG.append("text").attr("x", 290).attr("y", yy + 4.5).attr("font-size", 13).text(c);
});
legG.append("text").attr("transform", "rotate(-90,255,100)").attr("x", 255).attr("y", 100)
  .attr("text-anchor", "middle").attr("font-size", 13.5).text("Cycle number");

// ===== panel b =====
const bL = 403, bR = 660;
const bX = d3.scaleLinear().domain([2.0, 4.8]).range([bL, bR]);
const bData = [[HT_dqc, HT_dqd], [MHT_dqc, MHT_dqd], [BM_dqc, BM_dqd]];
const bNameX = [532, 533, 534];
bData.forEach((dd, i) => {
  const top = aT + i * aH, bot = top + aH;
  const y = d3.scaleLinear().domain([-1.2, 2.47]).range([bot, top]);
  const g = svg.append("g");
  const line = d3.line().x(d => bX(d[0])).y(d => y(d[1])).curve(d3.curveMonotoneX);
  drawOrder.forEach(ci => {
    const w = (ci === 0 || ci === 11) ? 1.6 : 1.25;
    const c = dqVchg.map((v, k) => [v, dd[0][ci][k]]).filter(p => p[1] != null).sort((a, b) => a[0] - b[0]);
    const d = dqVdis.map((v, k) => [v, dd[1][ci][k]]).filter(p => p[1] != null).sort((a, b) => a[0] - b[0]);
    [c, d].forEach(pts => g.append("path").attr("d", line(pts)).attr("fill", "none")
      .attr("stroke", cycleColors[ci]).attr("stroke-width", w));
  });
  xTicks(g, bX, bot, top, bXTicks, bXMinor, i === 2, d3.format(".1f"), 14.5);
  yTicks(g, y, bL, bR, bYTicks, bYMinor, true, (d, k) => bYLabels[k], 14.5);
  frame(g, bL, top, bR, bot);
  g.append("text").attr("x", bNameX[i]).attr("y", top + 22).attr("text-anchor", "middle").attr("font-size", 17.5).text(sampleNames[i]);
  rich(g, 368, (top + bot) / 2, ["dQ/dV (mAh g", ["-1"], " V", ["-1"], ")"], { rot: -90, fs: 16 });
});
rich(svg, 531, 586, ["Voltage vs. Li/Li", ["+"], " (V)"], { fs: 16.5 });

// ===== panel c =====
const cL = 50, cR = 660, cT = 637, cM = 778, cB = 919, cBrk = 839;
const cX = d3.scaleLinear().domain([-1.2, 101]).range([cL, cR]);
const cY = d3.scaleLinear().domain([60, 105]).range([cM, cT]);
const cYc = d3.scaleLinear().domain([3.87, 4.2]).range([cBrk, cM]);
const cYd = d3.scaleLinear().domain([3.2, 3.644]).range([cB, cBrk]);
const gc = svg.append("g");
const colHT = "#3570e6", colMHT = "#7351ab", colBM = "#e46464";
const series = [
  { name: "BM", cap: capBM, chg: chgBM, dis: disBM, col: colBM, sym: d3.symbolTriangle, size: 16, osize: 34 },
  { name: "MHT", cap: capMHT, chg: chgMHT, dis: disMHT, col: colMHT, sym: d3.symbolCircle, size: 28, osize: 30 },
  { name: "HT", cap: capHT, chg: chgHT, dis: disHT, col: colHT, sym: d3.symbolSquare, size: 30, osize: 26 }];
series.forEach(s => {
  const filled = d3.symbol().type(s.sym).size(s.size)();
  const open = d3.symbol().type(s.sym).size(s.osize)();
  gc.append("g").selectAll("path").data(cycleNo).join("path").attr("d", filled)
    .attr("transform", (c, k) => `translate(${cX(c)},${cY(s.cap[k])})`)
    .attr("fill", s.col).attr("stroke", d3.color(s.col).brighter(1.2)).attr("stroke-width", 0.8).attr("stroke-opacity", 0.6);
  gc.append("g").selectAll("path").data(cycleNo).join("path").attr("d", open)
    .attr("transform", (c, k) => `translate(${cX(c)},${cYc(s.chg[k])})`)
    .attr("fill", "none").attr("stroke", s.col).attr("stroke-width", 1.1);
  gc.append("g").selectAll("path").data(cycleNo).join("path").attr("d", open)
    .attr("transform", (c, k) => `translate(${cX(c)},${cYd(s.dis[k])})`)
    .attr("fill", "none").attr("stroke", s.col).attr("stroke-width", 1.1);
});
// axes c
const fsC = 15.5;
mkAxis(gc, d3.axisBottom(cX).tickValues(cXTicks).tickSize(-4).tickPadding(6).tickFormat(d3.format("d")), 0, cB, true, fsC);
mkAxis(gc, d3.axisBottom(cX).tickValues(cXMinor).tickSize(-2), 0, cB, false, fsC);
mkAxis(gc, d3.axisTop(cX).tickValues(cXTicks).tickSize(-4), 0, cT, false, fsC);
mkAxis(gc, d3.axisTop(cX).tickValues(cXMinor).tickSize(-2), 0, cT, false, fsC);
mkAxis(gc, d3.axisBottom(cX).tickValues(cXTicks).tickSize(-4), 0, cM, false, fsC);
mkAxis(gc, d3.axisTop(cX).tickValues(cXTicks).tickSize(-4), 0, cM, false, fsC);
yTicks(gc, cY, cL, cR, cYTicks, cYMinor, true, d3.format("d"), fsC, false);
yTicks(gc, cYc, cL, cR, cChgTicks, cChgMinor, false, d3.format(".1f"), fsC, true);
yTicks(gc, cYd, cL, cR, cDisTicks, cDisMinor, false, d3.format(".1f"), fsC, true);
frame(gc, cL, cT, cR, cM);
frame(gc, cL, cM, cR, cB);
gc.append("line").attr("x1", cL).attr("x2", cR).attr("y1", cBrk).attr("y2", cBrk)
  .attr("stroke", "#555").attr("stroke-width", 1).attr("stroke-dasharray", "4,3");
// break mark
[[0], [4]].forEach(o => gc.append("line").attr("x1", cR - 4).attr("x2", cR + 4)
  .attr("y1", cBrk + 5 + o[0]).attr("y2", cBrk + 1 + o[0]).attr("stroke", "#333").attr("stroke-width", 1));
gc.append("text").attr("x", 651).attr("y", 799).attr("text-anchor", "end").attr("font-size", 16).text("Charge");
gc.append("text").attr("x", 652).attr("y", 861).attr("text-anchor", "end").attr("font-size", 16).text("Discharge");
// legends
const legTop = [["HT", colHT, d3.symbolSquare, 30], ["MHT", colMHT, d3.symbolCircle, 30], ["BM", colBM, d3.symbolTriangle, 16]];
legTop.forEach((d, i) => {
  const yy = 723 + i * 19.5;
  gc.append("path").attr("d", d3.symbol().type(d[2]).size(d[3])()).attr("transform", `translate(71,${yy})`).attr("fill", d[1]);
  gc.append("text").attr("x", 93).attr("y", yy + 5.5).attr("font-size", 15.5).text(d[0]);
  const y2 = 867 + i * 19;
  gc.append("path").attr("d", d3.symbol().type(d[2]).size(i === 2 ? 34 : 28)()).attr("transform", `translate(71,${y2})`)
    .attr("fill", "none").attr("stroke", d[1]).attr("stroke-width", 1.2);
  gc.append("text").attr("x", 93).attr("y", y2 + 5.5).attr("font-size", 15.5).text(d[0]);
});
svg.append("text").attr("x", 355).attr("y", 955).attr("text-anchor", "middle").attr("font-size", 16).text("Cycle number");
svg.append("text").attr("transform", "rotate(-90,17,706)").attr("x", 17).attr("y", 706).attr("text-anchor", "middle")
  .attr("font-size", 16).text("Norm. specific capacity (%)");
svg.append("text").attr("transform", "rotate(-90,704,851)").attr("x", 704).attr("y", 851).attr("text-anchor", "middle")
  .attr("font-size", 16).text("Nominal voltage (V)");
</script></body></html>
